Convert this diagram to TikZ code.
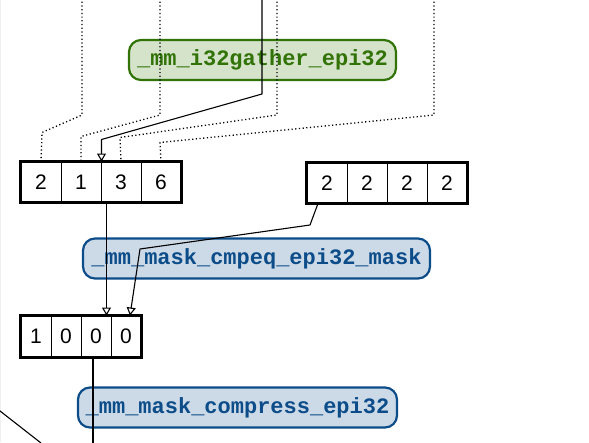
\documentclass[tikz,border=0pt]{standalone}
\usepackage{fontspec}
\setmainfont{Liberation Sans}
\newfontfamily\codefont{Liberation Mono}
\usetikzlibrary{arrows.meta,calc}

\definecolor{gfill}{HTML}{D5E3CB}
\definecolor{gline}{HTML}{317306}
\definecolor{bfill}{HTML}{CCDAE8}
\definecolor{bline}{HTML}{0C4C89}

\begin{document}
\begin{tikzpicture}[x=1pt,y=-1pt,
  cell/.style={draw, line width=1pt, minimum width=40pt, minimum height=40pt,
    inner sep=0pt, font=\fontsize{21}{21}\selectfont},
  smallcell/.style={cell, minimum width=30pt, minimum height=41pt},
  frame/.style={line width=2.2pt},
  fn/.style={rounded corners=12pt, line width=2.2pt, minimum height=40pt,
    inner sep=0pt, font=\codefont\bfseries\fontsize{22}{22}\selectfont},
  greenfn/.style={fn, draw=gline, fill=gfill, text=gline},
  bluefn/.style={fn, draw=bline, fill=bfill, text=bline},
  link/.style={line width=1.1pt, line join=round},
  dots/.style={link, line width=1.3pt, dash pattern=on 1.2pt off 2.5pt},
  arr/.style={link, -{Triangle[open, length=8pt, width=9pt]}}]

\useasboundingbox (0,0) rectangle (589,442);
\begin{scope}
\clip (0,0) rectangle (589,442);

% faint frame edge on the left
\draw[gray!12, line width=1pt] (0.7,0) -- (0.7,442);

% intrinsic labels
\node[greenfn, minimum width=267pt] (gather) at (262.5,60) {\_mm\_i32gather\_epi32};
\node[bluefn, minimum width=347pt] (cmpeq) at (256.5,258.5) {\_mm\_mask\_cmpeq\_epi32\_mask};
\node[bluefn, minimum width=319pt] (compress) at (237.5,407.5) {\_mm\_mask\_compress\_epi32};

% gathered vector
\node[cell] (c1) at (41,182) {2};
\node[cell] (c2) at (81,182) {1};
\node[cell] (c3) at (121,182) {3};
\node[cell] (c4) at (161,182) {6};
\draw[frame] (c1.north west) rectangle (c4.south east);

% comparison vector
\node[cell] (k1) at (327,183) {2};
\node[cell] (k2) at (367,183) {2};
\node[cell] (k3) at (407,183) {2};
\node[cell] (k4) at (447,183) {2};
\draw[frame] (k1.north west) rectangle (k4.south east);

% resulting mask
\node[smallcell] (m1) at (36,336.5) {1};
\node[smallcell] (m2) at (66,336.5) {0};
\node[smallcell] (m3) at (96,336.5) {0};
\node[smallcell] (m4) at (126,336.5) {0};
\draw[frame] (m1.north west) rectangle (m4.south east);

% loose ends at the picture border
\coordinate (inA) at (82,-2);
\coordinate (inB) at (160,-2);
\coordinate (inC) at (277,-2);
\coordinate (inD) at (434,-2);
\coordinate (inS) at (262,-2);
\coordinate (outM) at (93,445);

% index lanes
\draw[dots] (inA) -- (82,115) -- ($(c1.north)+(1,-29)$) -- (c1.north);
\draw[dots] (inB) -- (160,115) -- ($(c2.north)+(0,-25)$) -- (c2.north);
\draw[dots] (inC) -- (277,115) -- ($(c3.north)+(-1,-24)$) -- (c3.north);
\draw[dots] (inD) -- (434,115) -- ($(c4.north)+(-1,-19)$) -- (c4.north);

% base pointer
\draw[arr] (inS) -- (262,94) -- ($(c2.north east)+(0,-22)$) -- (c2.north east);

% compare operands
\coordinate (c3out) at ($(c3.south west)+(6,0)$);
\draw[arr] (c3out) -- (c3out |- m3.north);
\coordinate (k1out) at ($(k1.south)+(-9,0)$);
\draw[arr] (k1out) -- (310,225) -- (140,249) -- ($(m4.north)+(4,0)$);

% mask into compress
\coordinate (m3out) at ($(m3.south)+(-3,0)$);
\draw[link] (m3out) -- (m3out |- outM);

% incoming edge at the lower left
\draw[link] (-1,410.2) -- (41,443);
\end{scope}
\end{tikzpicture}
\end{document}
